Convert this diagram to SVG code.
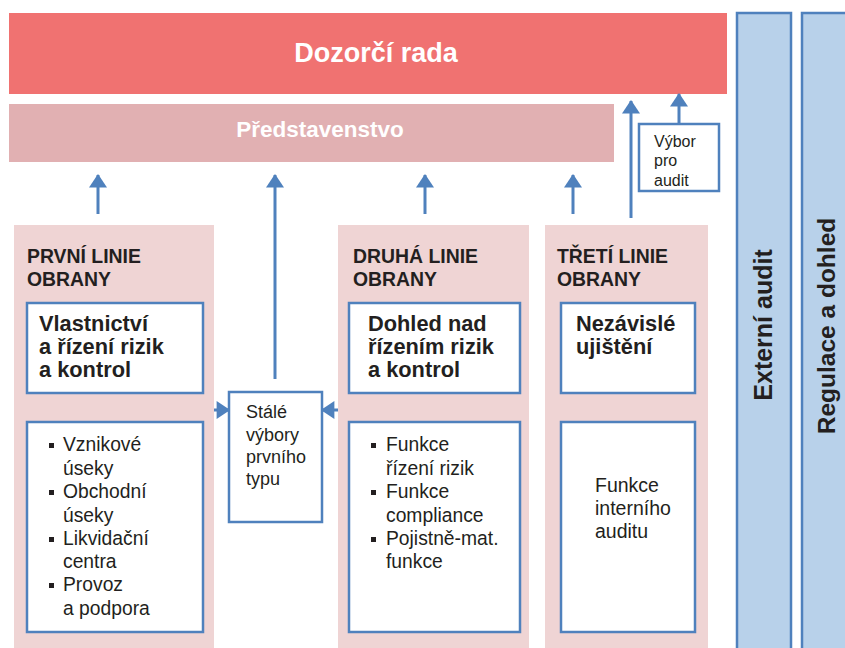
<svg xmlns="http://www.w3.org/2000/svg" width="845" height="648" viewBox="0 0 845 648">
<defs>
<style>
.t{font-family:"Liberation Sans",Arial,sans-serif;fill:#231f20}
.b{font-weight:bold}
.w{fill:#ffffff}
.box{fill:#ffffff;stroke:#4f81bd;stroke-width:2.5}
.col{fill:#efd4d4}
.bar{fill:#b8d1ea;stroke:#4f81bd;stroke-width:2.5}
.ln{stroke:#4f81bd;stroke-width:3;fill:none;marker-end:url(#ah)}
.sq{fill:#231f20}
</style>
<marker id="ah" markerUnits="userSpaceOnUse" markerWidth="18" markerHeight="18" viewBox="0 0 12 16" refX="11" refY="8" orient="auto">
<path d="M0,0 L12,8 L0,16 Z" fill="#4f81bd"/>
</marker>
</defs>
<rect width="845" height="648" fill="#ffffff"/>

<g id="regulace">
<rect class="bar" x="802" y="13" width="50" height="650"/>
<text class="t b" font-size="24.5" transform="translate(835,326) rotate(-90)" text-anchor="middle">Regulace a dohled</text>
</g>
<g id="externi-audit">
<rect class="bar" x="737" y="13" width="54" height="650"/>
<text class="t b" font-size="25" transform="translate(772,325) rotate(-90)" text-anchor="middle">Externí audit</text>
</g>

<g id="dozorci-rada">
<rect x="9" y="13" width="718" height="81" fill="#f07271"/>
<text class="t b w" font-size="27" x="376" y="62" text-anchor="middle">Dozorčí rada</text>
</g>
<g id="predstavenstvo">
<rect x="9" y="104" width="605" height="58" fill="#e1b0b2"/>
<text class="t b w" font-size="22.5" x="320" y="137" text-anchor="middle">Představenstvo</text>
</g>
<g id="vybor-pro-audit">
<rect class="box" x="639" y="124" width="80" height="67"/>
<text class="t" font-size="16"><tspan x="654" y="147">Výbor</tspan><tspan x="654" y="166">pro</tspan><tspan x="654" y="186">audit</tspan></text>
</g>

<g id="prvni-linie">
<rect class="col" x="14" y="225" width="200" height="430"/>
<text class="t b" font-size="19.4"><tspan x="27" y="263">PRVNÍ LINIE</tspan><tspan x="27" y="286">OBRANY</tspan></text>
<rect class="box" x="27" y="303" width="176" height="90"/>
<text class="t b" font-size="21.8"><tspan x="39" y="331">Vlastnictví</tspan><tspan x="39" y="354">a řízení rizik</tspan><tspan x="39" y="377">a kontrol</tspan></text>
<rect class="box" x="27" y="422" width="176" height="210"/>
<rect class="sq" x="49" y="443" width="5" height="5"/>
<rect class="sq" x="49" y="490" width="5" height="5"/>
<rect class="sq" x="49" y="537" width="5" height="5"/>
<rect class="sq" x="49" y="583" width="5" height="5"/>
<text class="t" font-size="19.3"><tspan x="63" y="451">Vznikové</tspan><tspan x="63" y="475">úseky</tspan><tspan x="63" y="498">Obchodní</tspan><tspan x="63" y="522">úseky</tspan><tspan x="63" y="545">Likvidační</tspan><tspan x="63" y="568">centra</tspan><tspan x="63" y="591">Provoz</tspan><tspan x="63" y="615">a podpora</tspan></text>
</g>

<g id="stale-vybory">
<rect class="box" x="229" y="392" width="93" height="130"/>
<text class="t" font-size="18"><tspan x="246" y="418">Stálé</tspan><tspan x="246" y="441">výbory</tspan><tspan x="246" y="463">prvního</tspan><tspan x="246" y="485">typu</tspan></text>
</g>

<g id="druha-linie">
<rect class="col" x="338" y="225" width="191" height="430"/>
<text class="t b" font-size="19.4"><tspan x="353" y="263">DRUHÁ LINIE</tspan><tspan x="353" y="286">OBRANY</tspan></text>
<rect class="box" x="349" y="303" width="171" height="90"/>
<text class="t b" font-size="21.8"><tspan x="368" y="331">Dohled nad</tspan><tspan x="368" y="354">řízením rizik</tspan><tspan x="368" y="377">a kontrol</tspan></text>
<rect class="box" x="349" y="422" width="171" height="210"/>
<rect class="sq" x="371" y="443" width="5" height="5"/>
<rect class="sq" x="371" y="490" width="5" height="5"/>
<rect class="sq" x="371" y="537" width="5" height="5"/>
<text class="t" font-size="19.3"><tspan x="386" y="451">Funkce</tspan><tspan x="386" y="475">řízení rizik</tspan><tspan x="386" y="498">Funkce</tspan><tspan x="386" y="522">compliance</tspan><tspan x="386" y="545">Pojistně-mat.</tspan><tspan x="386" y="568">funkce</tspan></text>
</g>

<g id="treti-linie">
<rect class="col" x="545" y="225" width="163" height="430"/>
<text class="t b" font-size="19.4"><tspan x="557" y="263">TŘETÍ LINIE</tspan><tspan x="557" y="286">OBRANY</tspan></text>
<rect class="box" x="561" y="303" width="134" height="90"/>
<text class="t b" font-size="21.8"><tspan x="576" y="331">Nezávislé</tspan><tspan x="576" y="354">ujištění</tspan></text>
<rect class="box" x="561" y="422" width="134" height="210"/>
<text class="t" font-size="19.5"><tspan x="595" y="492">Funkce</tspan><tspan x="595" y="515">interního</tspan><tspan x="595" y="538">auditu</tspan></text>
</g>

<g id="connectors">
<line class="ln" x1="98" y1="214" x2="98" y2="175"/>
<line class="ln" x1="275" y1="379" x2="275" y2="175"/>
<line class="ln" x1="425" y1="214" x2="425" y2="175"/>
<line class="ln" x1="573" y1="214" x2="573" y2="175"/>
<line class="ln" x1="631" y1="218" x2="631" y2="101"/>
<line class="ln" x1="679" y1="124" x2="679" y2="94"/>
<line class="ln" x1="214" y1="410" x2="229" y2="410"/>
<line class="ln" x1="338" y1="410" x2="322" y2="410"/>
</g>
</svg>
